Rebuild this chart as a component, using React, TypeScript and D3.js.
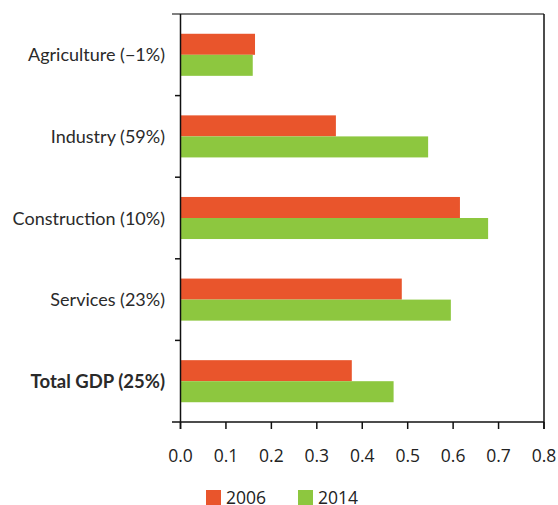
import React from "react";
import * as d3 from "d3";

const categories = ["Agriculture (−1%)", "Industry (59%)", "Construction (10%)", "Services (23%)", "Total GDP (25%)"];
const seriesNames = ["2006", "2014"];
const values2006 = [0.164, 0.342, 0.615, 0.487, 0.377];
const values2014 = [0.159, 0.545, 0.677, 0.595, 0.469];
const xTicks = [0, 0.1, 0.2, 0.3, 0.4, 0.5, 0.6, 0.7, 0.8];
const colors = ["#E9552C", "#8DC73F"];

const W = 558;
const H = 505;
const left = 180.5;
const right = 544;
const top = 14;
const bottom = 422;

export default function App() {
  const x = d3.scaleLinear().domain([0, 0.8]).range([left, right]);
  const y = d3.scaleBand<string>().domain(categories).range([top, bottom]);
  const inner = d3.scaleBand<string>().domain(seriesNames).range([0, y.bandwidth()]).paddingInner(0).paddingOuter(0.94);
  const data = [values2006, values2014];
  const boundaries = categories.slice(1).map((c) => y(c) as number);
  const labelFont = "Lato, 'Open Sans', sans-serif";
  const tickFont = "'Open Sans', 'Noto Sans', sans-serif";

  return (
    <svg width={W} height={H} style={{ position: "absolute", left: 0, top: 0, background: "#fff" }}>
      {/* bars */}
      {categories.map((c, i) => (
        <g key={c} transform={`translate(0,${y(c)})`}>
          {seriesNames.map((s, j) => (
            <rect
              key={s}
              x={x(0)}
              y={inner(s)}
              width={x(data[j][i]) - x(0)}
              height={inner.bandwidth()}
              fill={colors[j]}
            />
          ))}
        </g>
      ))}
      {/* frame */}
      <line x1={172} x2={right} y1={top} y2={top} stroke="#555" strokeWidth={1.5} />
      <line x1={172} x2={right} y1={bottom} y2={bottom} stroke="#111" strokeWidth={1.5} />
      <line x1={left} x2={left} y1={top} y2={bottom + 7} stroke="#111" strokeWidth={1.5} />
      <line x1={right} x2={right} y1={top} y2={bottom + 7} stroke="#111" strokeWidth={1.5} />
      {boundaries.map((b, i) => (
        <line key={i} x1={175} x2={left} y1={b} y2={b} stroke="#111" strokeWidth={1.5} />
      ))}
      {/* x ticks */}
      {xTicks.map((t) => (
        <g key={t}>
          <line x1={x(t)} x2={x(t)} y1={bottom} y2={bottom + 7} stroke="#111" strokeWidth={1.5} />
          <text x={x(t)} y={462} textAnchor="middle" fontFamily={tickFont} fontSize={17.5} fill="#222">
            {d3.format(".1f")(t)}
          </text>
        </g>
      ))}
      {/* category labels */}
      {categories.map((c, i) => (
        <text
          key={c}
          x={165}
          y={(y(c) as number) + y.bandwidth() / 2 + 6.5}
          textAnchor="end"
          fontFamily={labelFont}
          fontSize={i === categories.length - 1 ? 18.5 : 18}
          fontWeight={i === categories.length - 1 ? "bold" : "normal"}
          fill="#2a2a2a"
        >
          {c}
        </text>
      ))}
      {/* legend */}
      {seriesNames.map((s, j) => (
        <g key={s} transform={`translate(${206 + j * 92},490)`}>
          <rect x={0} y={0} width={15} height={15} fill={colors[j]} />
          <text x={20} y={13.5} fontFamily={tickFont} fontSize={17.5} fill="#222">
            {s}
          </text>
        </g>
      ))}
    </svg>
  );
}
